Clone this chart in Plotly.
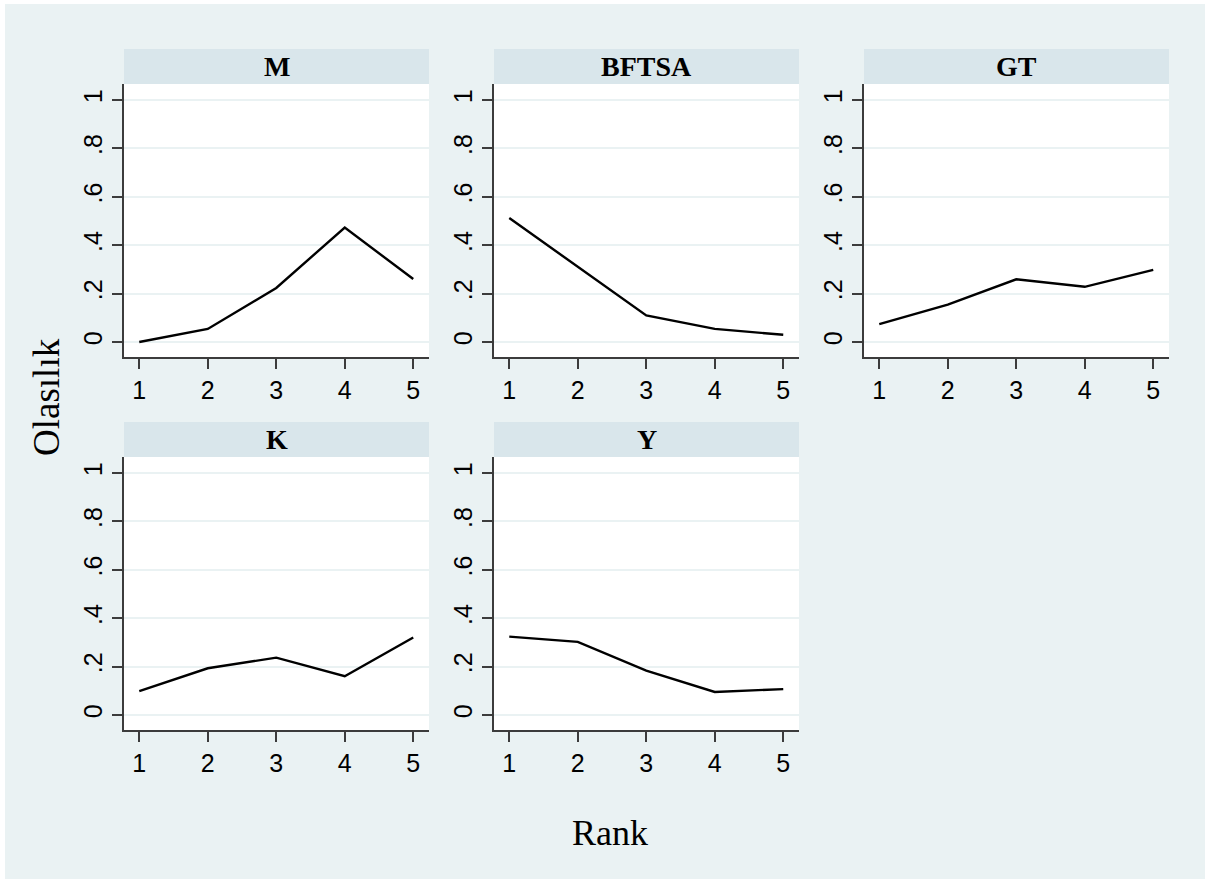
import plotly.graph_objects as go

W, H = 1205, 879

ranks = [1, 2, 3, 4, 5]
panel_titles = ["M", "BFTSA", "GT", "K", "Y"]
vals_M = [0.0, 0.054, 0.223, 0.473, 0.26]
vals_BFTSA = [0.512, 0.312, 0.11, 0.054, 0.03]
vals_GT = [0.074, 0.154, 0.259, 0.228, 0.298]
vals_K = [0.099, 0.193, 0.237, 0.16, 0.32]
vals_Y = [0.324, 0.302, 0.183, 0.095, 0.107]
series = [vals_M, vals_BFTSA, vals_GT, vals_K, vals_Y]

y_tickvals = [0, 0.2, 0.4, 0.6, 0.8, 1]
y_ticktext = ["0", ".2", ".4", ".6", ".8", "1"]
x_tickvals = [1, 2, 3, 4, 5]
x_ticktext = ["1", "2", "3", "4", "5"]

BG = "rgb(234,242,243)"
STRIP = "rgb(217,230,235)"
GRID = "rgb(234,242,243)"
AXC = "rgb(60,60,60)"

# pixel layout
col_x0 = [124, 494, 864]
pw = 305
row_plot_top = [84, 457]
ph = 273
strip_h = 35

fig = go.Figure()
shapes = []
annotations = []

def fx(px):
    return px / W

def fy(py):
    return 1 - py / H

tick_font = dict(family="Liberation Sans, Arial", size=25, color="black")

for i, (title, vals) in enumerate(zip(panel_titles, series)):
    r, c = divmod(i, 3)
    x0 = col_x0[c]
    y0 = row_plot_top[r]
    n = i + 1
    xa = "x" if n == 1 else f"x{n}"
    ya = "y" if n == 1 else f"y{n}"
    fig.add_trace(go.Scatter(x=ranks, y=vals, mode="lines",
                             line=dict(color="black", width=2.4),
                             xaxis=xa, yaxis=ya, showlegend=False,
                             hoverinfo="skip"))
    xkey = "xaxis" if n == 1 else f"xaxis{n}"
    ykey = "yaxis" if n == 1 else f"yaxis{n}"
    fig.update_layout(**{
        xkey: dict(domain=[fx(x0), fx(x0 + pw)], anchor=ya,
                   range=[0.777, 5.23], tickvals=x_tickvals, ticktext=x_ticktext,
                   showgrid=False, zeroline=False, showline=True, linecolor=AXC,
                   linewidth=1.5, ticks="outside", ticklen=10, tickwidth=1.5,
                   tickcolor=AXC, mirror=False, tickfont=tick_font),
        ykey: dict(domain=[fy(y0 + ph), fy(y0)], anchor=xa,
                   range=[-0.062, 1.066], tickvals=y_tickvals, ticktext=y_ticktext,
                   showgrid=True, gridcolor=GRID, gridwidth=2, zeroline=False,
                   showline=True, linecolor=AXC, linewidth=1.5, ticks="outside",
                   ticklen=10, tickwidth=1.5, tickcolor=AXC, tickangle=-90,
                   tickfont=tick_font),
    })
    # strip
    shapes.append(dict(type="rect", xref="paper", yref="paper",
                       x0=fx(x0), x1=fx(x0 + pw), y0=fy(y0), y1=fy(y0 - strip_h),
                       fillcolor=STRIP, line=dict(width=0), layer="below"))
    annotations.append(dict(xref="paper", yref="paper", x=fx(x0 + pw / 2),
                            y=fy(y0 - strip_h / 2), text=f"<b>{title}</b>",
                            showarrow=False, xanchor="center", yanchor="middle",
                            font=dict(family="Liberation Serif, Times New Roman",
                                      size=28, color="black")))

# white outer border
shapes.append(dict(type="rect", xref="paper", yref="paper", x0=0, x1=fx(5),
                   y0=0, y1=1, fillcolor="white", line=dict(width=0), layer="below"))
shapes.append(dict(type="rect", xref="paper", yref="paper", x0=0, x1=1,
                   y0=fy(4), y1=1, fillcolor="white", line=dict(width=0), layer="below"))

annotations.append(dict(xref="paper", yref="paper", x=fx(610), y=fy(833),
                        text="Rank", showarrow=False, xanchor="center", yanchor="middle",
                        font=dict(family="Liberation Serif, Times New Roman", size=36,
                                  color="black")))
annotations.append(dict(xref="paper", yref="paper", x=fx(46), y=fy(397),
                        text="Olasılık", showarrow=False, xanchor="center",
                        yanchor="middle", textangle=-90,
                        font=dict(family="Liberation Serif, Times New Roman", size=37,
                                  color="black")))

fig.update_layout(width=W, height=H, margin=dict(l=0, r=0, t=0, b=0),
                  paper_bgcolor=BG, plot_bgcolor="white",
                  shapes=shapes, annotations=annotations, showlegend=False)

fig.write_html("out.html")
